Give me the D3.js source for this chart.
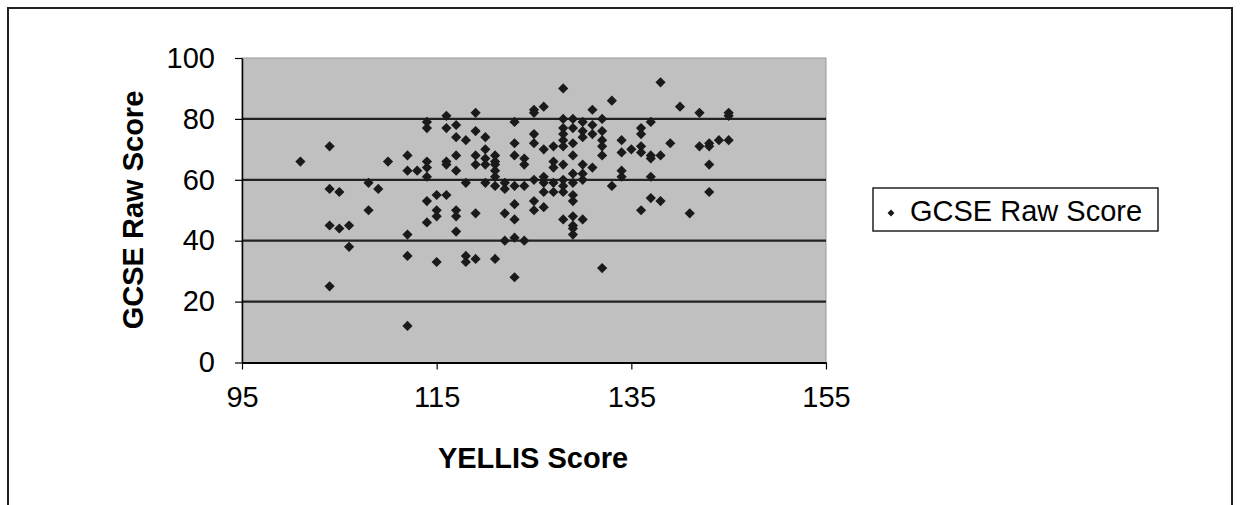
<!DOCTYPE html>
<html>
<head>
<meta charset="utf-8">
<script src="https://cdn.jsdelivr.net/npm/d3@7"></script>
<style>
  html, body { margin: 0; padding: 0; background: #fff; }
  svg { display: block; }
  text { font-family: "Liberation Sans", Arial, sans-serif; fill: #000; }
</style>
</head>
<body>
<svg id="chart" width="1241" height="505"></svg>
<script>
// ---- Data ----
const seriesName = "GCSE Raw Score";
const xTitle = "YELLIS Score";
const yTitle = "GCSE Raw Score";
const xTicks = [95, 115, 135, 155];
const yTicks = [0, 20, 40, 60, 80, 100];

const yellis = [
  101,
  104,104,104,104,
  105,105,
  106,106,
  108,108,
  109,
  110,
  112,112,112,112,112,
  113,
  114,114,114,114,114,114,114,
  115,115,115,115,
  116,116,116,116,116,
  117,117,117,117,117,117,117,
  118,118,118,118,
  119,119,119,119,119,119,
  120,120,120,120,120,
  121,121,121,121,121,121,121,
  122,122,122,122,
  123,123,123,123,123,123,123,123,
  124,124,124,124,
  125,125,125,125,125,125,125,
  126,126,126,126,126,126,
  127,127,127,127,127,
  128,128,128,128,128,128,128,128,128,128,128,
  129,129,129,129,129,129,129,129,129,129,129,129,
  130,130,130,130,130,130,130,
  131,131,131,131,
  132,132,132,132,132,132,
  133,133,
  134,134,134,134,
  135,
  136,136,136,136,136,
  137,137,137,137,137,
  138,138,138,
  139,
  140,
  141,
  142,142,
  143,143,143,143,
  144,
  145,145,145
];
const gcse = [
  66,
  71,57,45,25,
  56,44,
  45,38,
  59,50,
  57,
  66,
  68,63,42,35,12,
  63,
  79,77,66,64,61,53,46,
  55,50,48,33,
  81,77,66,65,55,
  78,74,68,63,50,48,43,
  73,59,35,33,
  82,76,68,65,49,34,
  74,70,67,65,59,
  68,66,65,63,61,58,34,
  59,57,49,40,
  79,72,68,58,52,47,41,28,
  67,65,58,40,
  83,82,75,72,60,53,50,
  84,70,61,59,56,51,
  71,66,64,59,56,
  90,80,77,75,73,71,65,60,58,56,47,
  80,77,72,68,62,59,55,53,48,45,44,42,
  79,76,74,65,62,60,47,
  83,78,75,64,
  80,76,73,71,68,31,
  86,58,
  73,69,63,61,
  70,
  77,75,71,69,50,
  79,68,67,61,54,
  92,68,53,
  72,
  84,
  49,
  82,71,
  72,71,65,56,
  73,
  82,81,73
];

const points = yellis.map((xv, i) => ({ x: xv, y: gcse[i] }));

// ---- Layout ----
const svg = d3.select("#chart");
const W = 1241, H = 505;
const plot = { left: 242, right: 826, top: 58, bottom: 362.5 };

const x = d3.scaleLinear().domain([95, 155]).range([plot.left, plot.right]);
const y = d3.scaleLinear().domain([0, 100]).range([plot.bottom, plot.top]);

// outer frame
svg.append("path")
  .attr("d", `M8,${H} L8,8 L1232,8 L1232,${H}`)
  .attr("fill", "none").attr("stroke", "#222").attr("stroke-width", 2);

// plot background
svg.append("rect")
  .attr("x", plot.left).attr("y", plot.top)
  .attr("width", plot.right - plot.left).attr("height", plot.bottom - plot.top)
  .attr("fill", "#c0c0c0").attr("stroke", "#9a9a9a").attr("stroke-width", 1);

// horizontal gridlines
svg.append("g").selectAll("line")
  .data(yTicks.filter(t => t > 0 && t < 100))
  .join("line")
  .attr("x1", plot.left).attr("x2", plot.right)
  .attr("y1", d => y(d)).attr("y2", d => y(d))
  .attr("stroke", "#222").attr("stroke-width", 2.2);

// y axis
const yAxis = svg.append("g")
  .attr("transform", `translate(${plot.left},0)`)
  .call(d3.axisLeft(y).tickValues(yTicks).tickSize(7).tickPadding(20).tickSizeOuter(0));
yAxis.select(".domain").attr("stroke", "#000").attr("stroke-width", 1.5);
yAxis.selectAll(".tick line").attr("stroke", "#000").attr("stroke-width", 1.2);
yAxis.selectAll(".tick text")
  .attr("font-size", 29).attr("font-family", "Liberation Sans, Arial, sans-serif")
  .attr("fill", "#111");

// x axis
const xAxis = svg.append("g")
  .attr("transform", `translate(0,${plot.bottom})`)
  .call(d3.axisBottom(x).tickValues(xTicks).tickSize(7).tickPadding(17).tickSizeOuter(0));
xAxis.select(".domain").attr("stroke", "#000").attr("stroke-width", 2);
xAxis.selectAll(".tick line").attr("stroke", "#000").attr("stroke-width", 1.2);
xAxis.selectAll(".tick text")
  .attr("font-size", 29).attr("font-family", "Liberation Sans, Arial, sans-serif")
  .attr("fill", "#111");

// points (diamonds)
const diamond = d3.symbol().type(d3.symbolSquare).size(52);
svg.append("g").selectAll("path")
  .data(points)
  .join("path")
  .attr("d", diamond)
  .attr("transform", d => `translate(${x(d.x)},${y(d.y)}) rotate(45)`)
  .attr("fill", "#1a1a1a");

// axis titles
svg.append("text")
  .attr("x", (plot.left + plot.right) / 2 - 1)
  .attr("y", 468)
  .attr("text-anchor", "middle")
  .attr("font-size", 29).attr("font-weight", "bold")
  .text(xTitle);

svg.append("text")
  .attr("transform", `translate(143,210) rotate(-90)`)
  .attr("text-anchor", "middle")
  .attr("font-size", 29).attr("font-weight", "bold")
  .text(yTitle);

// legend
const lg = svg.append("g");
lg.append("rect")
  .attr("x", 873).attr("y", 188).attr("width", 285).attr("height", 43)
  .attr("fill", "#fff").attr("stroke", "#222").attr("stroke-width", 1.5);
lg.append("path")
  .attr("d", d3.symbol().type(d3.symbolSquare).size(24))
  .attr("transform", "translate(891,213) rotate(45)")
  .attr("fill", "#1a1a1a");
lg.append("text")
  .attr("x", 910).attr("y", 221)
  .attr("font-size", 29)
  .text(seriesName);
</script>
</body>
</html>
